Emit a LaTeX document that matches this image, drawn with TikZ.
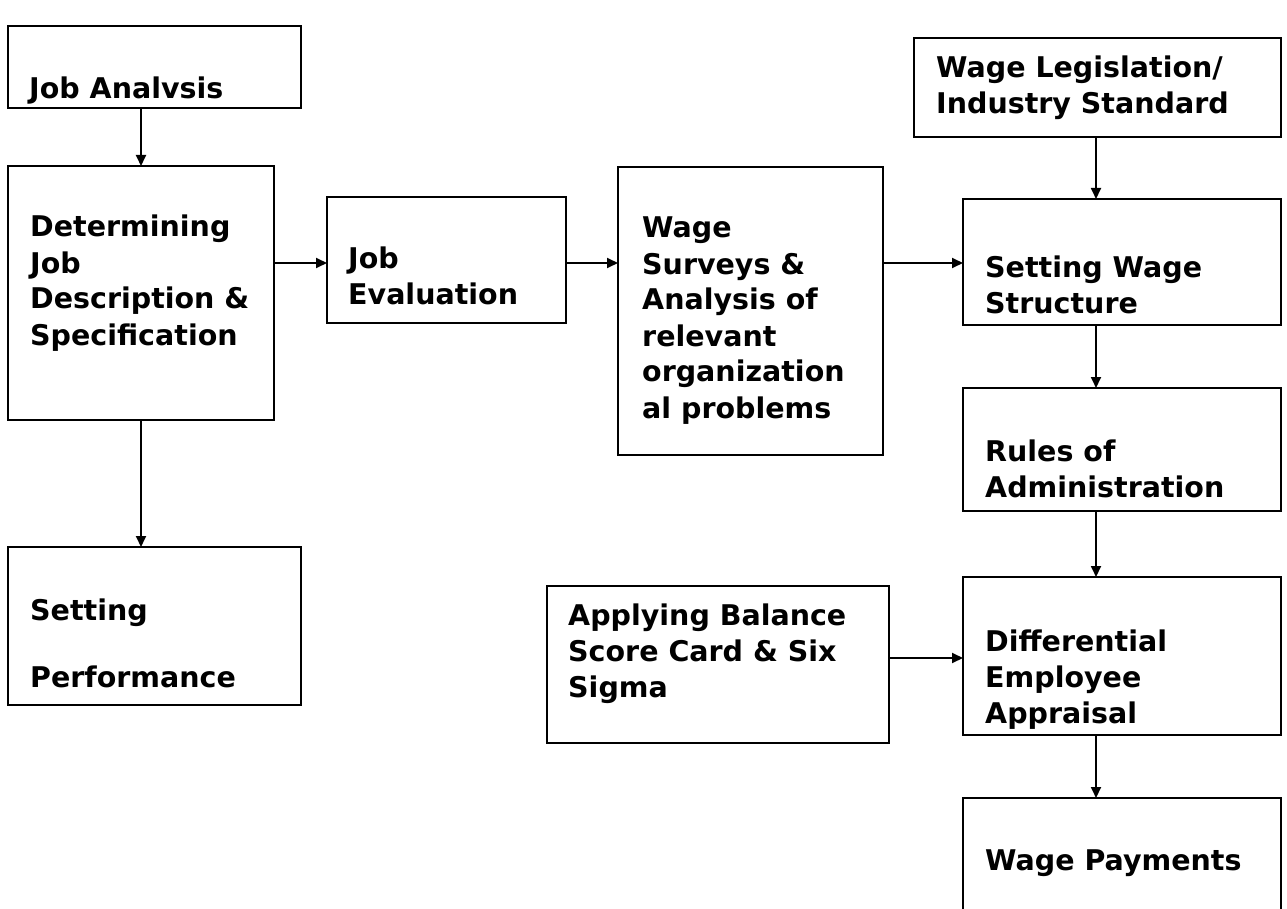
\documentclass[tikz,border=0pt]{standalone}
\usepackage{fontspec}
\setmainfont{DejaVu Sans}
\usetikzlibrary{arrows.meta}
\newcommand{\tl}[1]{\begin{tabular}[t]{@{}l@{}}#1\end{tabular}}
\begin{document}
\begin{tikzpicture}[x=1pt, y=-1pt,
  box/.style={draw, line width=1.8pt, inner sep=0pt, outer sep=0pt, anchor=north west},
  txt/.style={anchor=base west, inner sep=0pt, font=\fontsize{28.5}{36}\selectfont\bfseries},
  arr/.style={line width=1.8pt, -{Triangle[length=11pt,width=10pt]}}]
\useasboundingbox (0,0) rectangle (1287,909);
\clip (0,0) rectangle (1287,909);
% boxes
\node[box, minimum width=293pt, minimum height=82pt]  (ja) at (8,26) {};
\node[box, minimum width=266pt, minimum height=254pt] (det) at (8,166) {};
\node[box, minimum width=293pt, minimum height=158pt] (sp) at (8,547) {};
\node[box, minimum width=239pt, minimum height=126pt] (je) at (327,197) {};
\node[box, minimum width=265pt, minimum height=288pt] (ws) at (618,167) {};
\node[box, minimum width=367pt, minimum height=99pt]  (wl) at (914,38) {};
\node[box, minimum width=318pt, minimum height=126pt] (sw) at (963,199) {};
\node[box, minimum width=318pt, minimum height=123pt] (ru) at (963,388) {};
\node[box, minimum width=318pt, minimum height=158pt] (di) at (963,577) {};
\node[box, minimum width=318pt, minimum height=150pt] (wp) at (963,798) {};
\node[box, minimum width=342pt, minimum height=157pt] (ap) at (547,586) {};
% texts
\node[txt] (jat) at (29,99) {Job Analvsis};
\node[txt] (dett) at (30,237) {\tl{Determining\\Job\\Description \&\\Specification}};
\node[txt] (spt) at (30,620) {\tl{Setting\\[31pt]Performance}};
\node[txt] (jet) at (348,269) {\tl{Job\\Evaluation}};
\node[txt] (wst) at (642,238) {\tl{Wage\\Surveys \&\\Analysis of\\relevant\\organization\\al problems}};
\node[txt] (wlt) at (936,78) {\tl{Wage Legislation/\\Industry Standard}};
\node[txt] (swt) at (985,277) {\tl{Setting Wage\\Structure}};
\node[txt] (rut) at (985,461) {\tl{Rules of\\Administration}};
\node[txt] (dit) at (985,651) {\tl{Differential\\Employee\\Appraisal}};
\node[txt] (wpt) at (985,870) {Wage Payments};
\node[txt] (apt) at (568,625) {\tl{Applying Balance\\Score Card \& Six\\Sigma}};
% guide coordinates
\coordinate (row1) at (0,263);
\coordinate (row2) at (0,658);
\coordinate (col1) at (1096,0);
% connectors
\draw[arr] (ja.south -| det.north) -- (det.north);
\draw[arr] (det.south) -- (det.south |- sp.north);
\draw[arr] (det.east |- row1) -- (je.west |- row1);
\draw[arr] (je.east |- row1) -- (ws.west |- row1);
\draw[arr] (ws.east |- row1) -- (sw.west |- row1);
\draw[arr] (wl.south -| col1) -- (sw.north -| col1);
\draw[arr] (sw.south -| col1) -- (ru.north -| col1);
\draw[arr] (ru.south -| col1) -- (di.north -| col1);
\draw[arr] (di.south -| col1) -- (wp.north -| col1);
\draw[arr] (ap.east |- row2) -- (di.west |- row2);
\end{tikzpicture}
\end{document}
